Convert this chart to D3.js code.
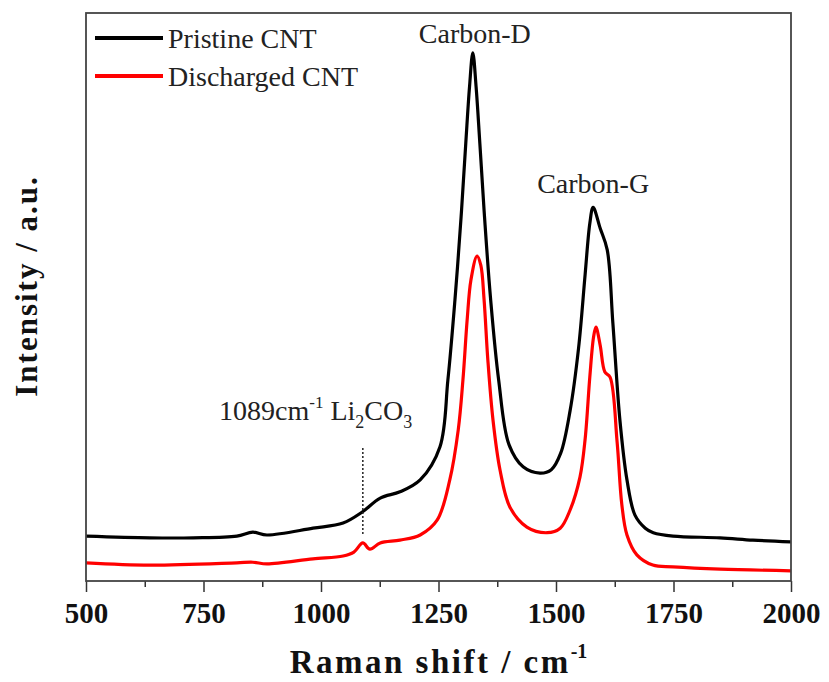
<!DOCTYPE html>
<html>
<head>
<meta charset="utf-8">
<script src="https://cdnjs.cloudflare.com/ajax/libs/d3/7.8.5/d3.min.js"></script>
<style>
  body { margin: 0; background: #fff; }
  text { font-family: "Liberation Serif", "Times New Roman", serif; }
</style>
</head>
<body>
<div id="chart"></div>
<script>
// Raman spectra (intensity in arbitrary units, 0-100)
var pristineShift = [500, 636, 728, 821, 855, 885, 983, 1047, 1087, 1126, 1168, 1211, 1253, 1270, 1285, 1298, 1308, 1316, 1323, 1330, 1338, 1348, 1361, 1378, 1400, 1430, 1466, 1490, 1510, 1530, 1548, 1562, 1572, 1579, 1594, 1609, 1621, 1636, 1651, 1668, 1690, 1707, 1749, 1849, 1919, 2000];
var pristineIntensity = [7.9, 7.6, 7.6, 7.9, 8.6, 8.1, 9.3, 10.2, 12.1, 14.6, 15.7, 17.8, 23.6, 35.4, 49.5, 64.0, 77.0, 87.0, 93.0, 87.0, 77.0, 64.0, 49.5, 35.4, 24.0, 20.1, 19.0, 19.6, 22.5, 30.0, 41.0, 54.0, 63.0, 65.8, 62.1, 58.3, 45.4, 28.3, 17.8, 11.6, 9.3, 8.5, 7.9, 7.6, 7.2, 6.9];

var dischargedShift = [500, 636, 821, 855, 885, 983, 1047, 1070, 1089, 1104, 1126, 1168, 1211, 1247, 1274, 1292, 1302, 1311, 1319, 1332, 1340, 1347, 1355, 1366, 1381, 1402, 1438, 1481, 1509, 1530, 1551, 1562, 1572, 1580, 1585, 1594, 1604, 1615, 1630, 1640, 1651, 1672, 1706, 1749, 1849, 2000];
var dischargedIntensity = [3.2, 2.8, 3.2, 3.3, 3.0, 3.9, 4.4, 5.1, 6.7, 5.6, 6.7, 7.2, 8.1, 10.7, 17.8, 26.6, 35.4, 46.0, 53.0, 57.2, 55.6, 49.5, 38.9, 28.3, 19.5, 13.0, 9.5, 8.5, 9.3, 12.5, 18.3, 25.0, 36.0, 43.0, 44.7, 41.5, 36.8, 35.9, 24.5, 13.5, 8.1, 4.6, 2.8, 2.5, 2.1, 1.8];

var seriesNames = ['Pristine CNT', 'Discharged CNT'];
var seriesColors = ['#000000', '#ff0000'];
var majorTicks = [500, 750, 1000, 1250, 1500, 1750, 2000];
var minorTicks = [625, 875, 1125, 1375, 1625, 1875];

// Li2CO3 marker
var li2co3Shift = 1089;
var li2co3Range = [8.1, 23.4];

var svgWidth = 829;
var svgHeight = 682;

var margin = { top: 13, right: 38, bottom: 101, left: 86 };
var width = svgWidth - margin.left - margin.right;
var height = svgHeight - margin.top - margin.bottom;

var svg = d3.select('#chart')
  .append('svg')
  .attr('width', svgWidth)
  .attr('height', svgHeight);

var chartGroup = svg.append('g')
  .attr('transform', `translate(${margin.left}, ${margin.top})`);

var xScale = d3.scaleLinear().domain([500, 2000]).range([0, width]);
var yScale = d3.scaleLinear().domain([0, 100]).range([height, 0]);

var series = [
  d3.zip(pristineShift, pristineIntensity),
  d3.zip(dischargedShift, dischargedIntensity)
];

var line = d3.line()
  .x(d => xScale(d[0]))
  .y(d => yScale(d[1]))
  .curve(d3.curveCatmullRom.alpha(0.5));

chartGroup.append('defs').append('clipPath')
  .attr('id', 'clip')
  .append('rect')
  .attr('width', width)
  .attr('height', height);

// spectra
chartGroup.append('g')
  .attr('clip-path', 'url(#clip)')
  .selectAll('path')
  .data(series)
  .enter()
  .append('path')
  .attr('d', line)
  .attr('fill', 'none')
  .attr('stroke', (d, i) => seriesColors[i])
  .attr('stroke-width', 3.2)
  .attr('stroke-linejoin', 'round');

// bottom axis, major and minor ticks
var bottomAxis = d3.axisBottom(xScale)
  .tickValues(majorTicks)
  .tickSize(11)
  .tickPadding(10)
  .tickFormat(d3.format('d'));

var xAxis = chartGroup.append('g')
  .attr('transform', `translate(0, ${height})`)
  .call(bottomAxis);

xAxis.select('.domain').remove();
xAxis.selectAll('line').attr('stroke', '#333').attr('stroke-width', 1.5);
xAxis.selectAll('text')
  .attr('font-family', '"Liberation Serif", serif')
  .attr('font-size', '29px')
  .attr('font-weight', 'bold')
  .attr('fill', '#111');

chartGroup.append('g')
  .attr('transform', `translate(0, ${height})`)
  .call(d3.axisBottom(xScale).tickValues(minorTicks).tickSize(6).tickFormat(''))
  .call(g => g.select('.domain').remove())
  .selectAll('line').attr('stroke', '#333').attr('stroke-width', 1.5);

// frame
chartGroup.append('rect')
  .attr('width', width)
  .attr('height', height)
  .attr('fill', 'none')
  .attr('stroke', '#444')
  .attr('stroke-width', 1.8);

// axis titles
var xTitle = svg.append('text')
  .attr('x', margin.left + width / 2)
  .attr('y', 673)
  .attr('text-anchor', 'middle')
  .attr('font-size', '33px')
  .attr('font-weight', 'bold')
  .attr('letter-spacing', '2.5px')
  .attr('fill', '#111');
xTitle.append('tspan').text('Raman shift / cm');
xTitle.append('tspan').attr('dy', -15).attr('font-size', '20px').attr('letter-spacing', '0px').text('-1');

svg.append('text')
  .attr('transform', `translate(37, ${margin.top + 273}) rotate(-90)`)
  .attr('text-anchor', 'middle')
  .attr('font-size', '31px')
  .attr('font-weight', 'bold')
  .attr('letter-spacing', '2px')
  .attr('fill', '#111')
  .text('Intensity / a.u.');

// legend
var legend = svg.append('g');
seriesNames.forEach(function(name, i) {
  var y = 38 + i * 38;
  legend.append('line')
    .attr('x1', 95).attr('x2', 163)
    .attr('y1', y).attr('y2', y)
    .attr('stroke', seriesColors[i])
    .attr('stroke-width', 4);
  legend.append('text')
    .attr('x', 168)
    .attr('y', y + 10)
    .attr('font-size', '28px')
    .attr('fill', '#222')
    .text(name);
});

// peak labels
chartGroup.append('text')
  .attr('x', xScale(1323) + 2)
  .attr('y', yScale(93) - 10)
  .attr('text-anchor', 'middle')
  .attr('font-size', '28px')
  .attr('fill', '#222')
  .text('Carbon-D');

chartGroup.append('text')
  .attr('x', xScale(1579))
  .attr('y', yScale(65.8) - 14)
  .attr('text-anchor', 'middle')
  .attr('font-size', '28px')
  .attr('fill', '#222')
  .text('Carbon-G');

// Li2CO3 annotation
chartGroup.append('line')
  .attr('x1', xScale(li2co3Shift)).attr('x2', xScale(li2co3Shift))
  .attr('y1', yScale(li2co3Range[1])).attr('y2', yScale(li2co3Range[0]))
  .attr('stroke', '#222')
  .attr('stroke-width', 1.5)
  .attr('stroke-dasharray', '2,2');

var liLabel = svg.append('text')
  .attr('x', 219)
  .attr('y', 420)
  .attr('font-size', '28px')
  .attr('fill', '#222');
liLabel.append('tspan').text('1089cm');
liLabel.append('tspan').attr('dy', -12).attr('font-size', '17px').text('-1');
liLabel.append('tspan').attr('dy', 12).text(' Li');
liLabel.append('tspan').attr('dy', 8).attr('font-size', '18px').text('2');
liLabel.append('tspan').attr('dy', -8).text('CO');
liLabel.append('tspan').attr('dy', 8).attr('font-size', '18px').text('3');
</script>
</body>
</html>
